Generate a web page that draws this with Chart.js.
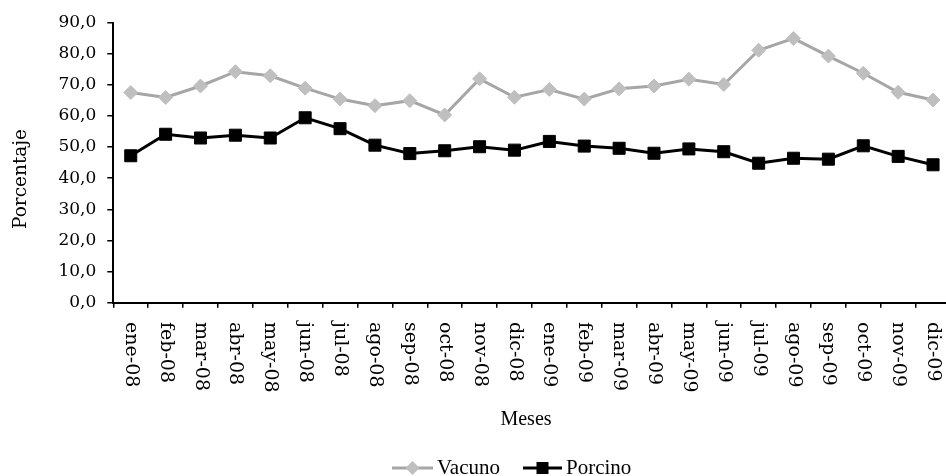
<!DOCTYPE html>
<html>
<head>
<meta charset="utf-8">
<script src="https://cdn.jsdelivr.net/npm/chart.js@4/dist/chart.umd.min.js"></script>
<style>
  html, body { margin: 0; padding: 0; background: #fff; overflow: hidden; }
  #wrap { width: 946px; height: 476px; overflow: hidden; position: relative; }
  canvas { display: block; }
</style>
</head>
<body>
<div id="wrap"><canvas id="c" width="960" height="476"></canvas></div>
<script>
const categories = ['ene-08','feb-08','mar-08','abr-08','may-08','jun-08','jul-08','ago-08','sep-08','oct-08','nov-08','dic-08',
                    'ene-09','feb-09','mar-09','abr-09','may-09','jun-09','jul-09','ago-09','sep-09','oct-09','nov-09','dic-09'];
const vacuno  = [67.5, 65.9, 69.6, 74.2, 72.9, 68.9, 65.4, 63.3, 64.9, 60.3, 71.9, 66.0,
                 68.5, 65.4, 68.7, 69.6, 71.8, 70.1, 81.1, 84.9, 79.2, 73.7, 67.6, 65.1];
const porcino = [47.2, 54.1, 52.9, 53.8, 52.9, 59.4, 55.9, 50.6, 47.9, 48.8, 50.1, 49.0,
                 51.8, 50.3, 49.6, 48.0, 49.4, 48.5, 44.8, 46.4, 46.1, 50.4, 47.0, 44.3];
const yTicks = [0, 10, 20, 30, 40, 50, 60, 70, 80, 90];
const seriesNames = ['Vacuno', 'Porcino'];
const xTitle = 'Meses';
const yTitle = 'Porcentaje';

const SERIF_WIDE = '"DejaVu Serif", serif';
const SERIF_NARROW = '"Liberation Serif", "Times New Roman", serif';

const overlay = {
  id: 'overlay',
  afterDraw(chart) {
    const ctx = chart.ctx;
    const xs = chart.scales.x;
    const ys = chart.scales.y;
    ctx.save();
    ctx.fillStyle = '#000';
    // rotated x tick labels (reading top to bottom)
    ctx.font = '19px ' + SERIF_WIDE;
    ctx.textAlign = 'left';
    ctx.textBaseline = 'middle';
    chart.data.labels.forEach((lab, i) => {
      const x = xs.getPixelForValue(i);
      ctx.save();
      ctx.translate(x, 322);
      ctx.rotate(Math.PI / 2);
      ctx.fillText(lab, 0, 0);
      ctx.restore();
    });
    // x title
    ctx.font = '20px ' + SERIF_NARROW;
    ctx.textAlign = 'center';
    ctx.textBaseline = 'alphabetic';
    ctx.fillText(xTitle, 526, 425);
    // y title
    ctx.save();
    ctx.font = '18.5px ' + SERIF_WIDE;
    ctx.translate(21, 179);
    ctx.rotate(-Math.PI / 2);
    ctx.textAlign = 'center';
    ctx.textBaseline = 'middle';
    ctx.fillText(yTitle, 0, 0);
    ctx.restore();
    // legend
    const ly = 468;
    const ds = chart.data.datasets;
    // Vacuno
    ctx.strokeStyle = ds[0].borderColor;
    ctx.lineWidth = 3;
    ctx.beginPath(); ctx.moveTo(392, ly); ctx.lineTo(433, ly); ctx.stroke();
    ctx.fillStyle = ds[0].pointBackgroundColor;
    ctx.beginPath();
    ctx.moveTo(412.5, ly - 7); ctx.lineTo(419.5, ly); ctx.lineTo(412.5, ly + 7); ctx.lineTo(405.5, ly);
    ctx.closePath(); ctx.fill();
    // Porcino
    ctx.strokeStyle = ds[1].borderColor;
    ctx.beginPath(); ctx.moveTo(523, ly); ctx.lineTo(562, ly); ctx.stroke();
    ctx.fillStyle = ds[1].pointBackgroundColor;
    ctx.fillRect(542.5 - 6, ly - 6, 12, 12);
    ctx.fillStyle = '#000';
    ctx.font = '21px ' + SERIF_NARROW;
    ctx.textAlign = 'left';
    ctx.textBaseline = 'alphabetic';
    ctx.fillText(ds[0].label, 437, 474);
    ctx.fillText(ds[1].label, 566, 474);
    ctx.restore();
  }
};

new Chart(document.getElementById('c'), {
  type: 'line',
  data: {
    labels: categories,
    datasets: [
      {
        label: seriesNames[0],
        data: vacuno,
        borderColor: '#a6a6a6',
        borderWidth: 3,
        pointStyle: 'rectRot',
        pointRadius: 7,
        pointBackgroundColor: '#bfbfbf',
        pointBorderColor: '#bfbfbf',
        pointBorderWidth: 1,
        tension: 0
      },
      {
        label: seriesNames[1],
        data: porcino,
        borderColor: '#000000',
        borderWidth: 3,
        pointStyle: 'rect',
        pointRadius: 8.5,
        pointBackgroundColor: '#000000',
        pointBorderColor: '#000000',
        pointBorderWidth: 1,
        tension: 0
      }
    ]
  },
  options: {
    responsive: false,
    animation: false,
    events: [],
    layout: { padding: { left: 58.3, right: 5, top: 22.5, bottom: 0 } },
    plugins: { legend: { display: false }, tooltip: { enabled: false }, title: { display: false } },
    scales: {
      x: {
        type: 'category',
        offset: true,
        grid: { offset: true, drawOnChartArea: false, drawTicks: true, tickLength: 5, color: '#000', lineWidth: 1.5 },
        border: { display: true, color: '#000', width: 2 },
        ticks: { display: false },
        afterFit(scale) { scale.height = 173.3; }
      },
      y: {
        min: 0,
        max: 90,
        afterBuildTicks(scale) { scale.ticks = yTicks.map(v => ({ value: v })); },
        grid: { drawOnChartArea: false, drawTicks: true, tickLength: 6, color: '#000', lineWidth: 1.5 },
        border: { display: true, color: '#000', width: 2 },
        ticks: {
          color: '#000',
          padding: 11,
          font: { family: SERIF_WIDE, size: 17 },
          callback: (v) => Number(v).toFixed(1).replace('.', ',')
        },
        afterFit(scale) { scale.width = 55; }
      }
    }
  },
  plugins: [overlay]
});
</script>
</body>
</html>
